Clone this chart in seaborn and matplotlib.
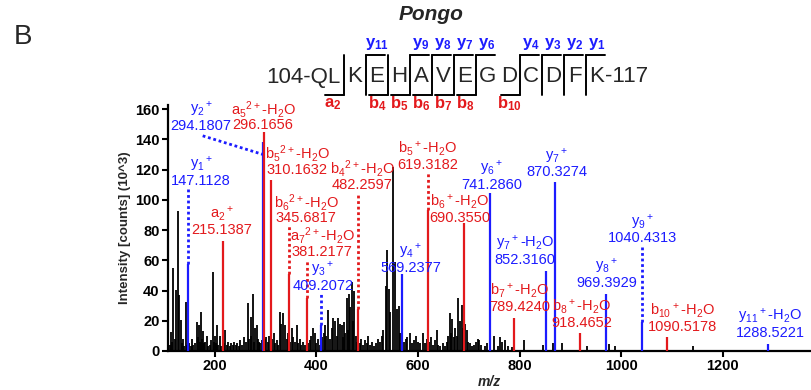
import matplotlib
matplotlib.use("Agg")
import matplotlib.pyplot as plt
import seaborn as sns

# ---- data -----------------------------------------------------------------
# assigned fragment ions
ion_labels = ["y$_1$$^+$", "a$_2$$^+$", "y$_2$$^+$", "a$_5$$^{2+}$-H$_2$O", "b$_5$$^{2+}$-H$_2$O",
              "b$_6$$^{2+}$-H$_2$O", "a$_7$$^{2+}$-H$_2$O", "y$_3$$^+$", "b$_4$$^{2+}$-H$_2$O", "y$_4$$^+$",
              "b$_5$$^+$-H$_2$O", "b$_6$$^+$-H$_2$O", "y$_6$$^+$", "b$_7$$^+$-H$_2$O", "y$_7$$^+$-H$_2$O",
              "y$_7$$^+$", "b$_8$$^+$-H$_2$O", "y$_8$$^+$", "y$_9$$^+$", "b$_{10}$$^+$-H$_2$O",
              "y$_{11}$$^+$-H$_2$O"]
ion_mz = [147.1128, 215.1387, 294.1807, 296.1656, 310.1632,
          345.6817, 381.2177, 409.2072, 482.2597, 569.2377,
          619.3182, 690.3550, 741.2860, 789.4240, 852.3160,
          870.3274, 918.4652, 969.3929, 1040.4313, 1090.5178, 1288.5221]
ion_int = [57.5, 73, 138, 145, 113,
           51, 35, 17, 28, 51,
           93, 84.5, 104.5, 22, 53,
           112, 12, 38, 19, 9.5, 4.4]
ion_series = ["y", "b", "y", "b", "b",
              "b", "b", "y", "b", "y",
              "b", "b", "y", "b", "y",
              "y", "b", "y", "y", "b", "y"]

# unassigned peaks (m/z, intensity x10^3)
other_mz = [111, 113, 116, 118, 121, 123, 126.8, 130, 133, 135.5, 137.8, 140, 142.5, 145,
            149.5, 152, 154, 157, 160, 164, 166, 168, 170, 172, 174, 176, 179, 181, 184,
            187, 190, 193, 195.6, 198, 200, 202, 204.7, 207, 209.8, 212, 217, 219.9, 223,
            226, 229, 232, 235, 238, 241, 244, 247, 250, 254, 258, 262, 265.7, 268, 270.3,
            272, 274.4, 277, 279, 282.6, 285, 287, 289, 292, 299, 301, 304, 307, 313, 316,
            319, 322, 325, 328, 330, 334.5, 338, 341, 344, 348, 351, 354, 357, 361, 364,
            367, 370, 374, 377, 384, 387, 390, 394, 397, 400, 403, 406, 411, 414, 416.7,
            419, 423, 426, 430, 433, 436.7, 440, 443.3, 446, 450, 452, 454.6, 457, 459.4,
            462, 464.6, 466.5, 469.3, 471, 473.8, 477, 480, 485, 488, 492, 496, 499, 502,
            505, 509, 513, 517, 521, 525, 528, 531, 536, 539, 543, 545.5, 551.2, 555, 558,
            562.5, 565, 572, 576, 579, 584, 588, 592, 596, 600, 604, 609, 613, 617, 622,
            625, 629, 633, 636.6, 640, 643, 648.3, 652, 656, 659, 662.8, 665, 667.5, 670,
            673, 676, 679.2, 682, 685.8, 688, 693, 696.2, 699, 703, 706, 710, 714, 718,
            720.8, 724, 731, 736, 749, 757, 761, 765, 771, 776, 785, 809, 846, 866, 884,
            932, 976.6, 987.6, 1141.7]
other_int = [4, 12.8, 6, 54.7, 8, 40.3, 92.6, 37, 20.5, 5, 8, 3, 32.6, 4,
             5.5, 3, 8, 4, 5, 19.4, 9, 17, 6, 26, 8, 13, 5, 6, 10,
             3, 4, 7, 52, 6, 10, 5, 17, 4, 10, 3, 5, 14, 4,
             6, 3, 5, 4, 6, 4, 5, 3, 7, 4, 9, 6, 31.5, 8, 22.8,
             10, 38, 6, 15, 17, 8, 6, 5, 7, 8, 9, 6, 10, 8, 12,
             5, 7, 4, 26, 18, 25, 17, 8, 12, 6, 15, 9, 6, 17, 5,
             8, 4, 6, 4, 5, 7, 10, 15, 12, 5, 8, 4, 9, 12, 17,
             10, 27, 8, 15, 22, 20, 10, 22, 18, 17, 9, 19, 12, 34.8,
             14, 38, 29, 45.8, 20, 39.4, 10, 6, 5, 8, 4, 7, 5, 10,
             4, 6, 3, 5, 8, 6, 10, 14, 43, 67, 41, 26, 122, 59, 28,
             30, 12, 6, 8, 9, 12, 5, 7, 10, 6, 5, 12, 5, 8, 6,
             9, 4, 7, 14, 4, 3, 5.5, 3, 6, 10, 25, 12, 21, 9,
             15, 10, 35, 20, 30.4, 15, 18, 14, 6, 5, 3, 4, 6, 8,
             7, 4, 3, 5, 10, 3, 9, 6, 7, 3, 2.5, 7, 4, 5, 5,
             3.5, 4.3, 3.5, 3.5]

# peptide and observed cleavages (residue index the fragment breaks after)
peptide = "QLKEHAVEGDCDFK"
pep_start, pep_end = 104, 117
y_ions = [1, 2, 3, 4, 6, 7, 8, 9, 11]
b_ions = [("a", 2), ("b", 4), ("b", 5), ("b", 6), ("b", 7), ("b", 8), ("b", 10)]

# ---- label layout (m/z, intensity of the number line) ----------------------
label_pos = [(173, 112.4), (214, 80.0), (173, 148.8), (294.7, 149.4), (361.6, 119.7),
             (379.3, 87.9), (410.8, 65.5), (412.8, 43.0), (489.6, 109.8), (586, 54.9),
             (619.5, 123.0), (682.5, 87.9), (745.5, 109.8), (800.6, 29.1), (810.4, 60.2),
             (873.4, 118.3), (922.6, 18.5), (971.9, 45.0), (1042.7, 74.7), (1119.5, 15.9),
             (1292.7, 11.9)]
dotted = [True, False, False, False, False,
          True, True, True, True, False,
          True, False, False, False, False,
          False, False, False, True, False, False]

RED = "#e3191c"
BLUE = "#1c1cff"

sns.set_theme(style="ticks")
plt.rcParams["font.family"] = ["Liberation Sans", "DejaVu Sans"]
plt.rcParams["mathtext.fontset"] = "custom"
plt.rcParams["mathtext.rm"] = "Liberation Sans"
plt.rcParams["mathtext.default"] = "regular"

W, H = 811, 390
fig = plt.figure(figsize=(W / 100, H / 100), dpi=100)
ax = fig.add_axes([168 / W, 1 - 351 / H, 1 - 168 / W, (351 - 104.5) / H])

# spectrum
ax.vlines(other_mz, 0, other_int, color="black", lw=1.3, zorder=2)
for mz, inten, ser in zip(ion_mz, ion_int, ion_series):
    ax.vlines(mz, 0, inten, color=BLUE if ser == "y" else RED, lw=1.6, zorder=3)

# labels
for i, (lab, mz, inten, ser) in enumerate(zip(ion_labels, ion_mz, ion_int, ion_series)):
    col = BLUE if ser == "y" else RED
    lx, ly = label_pos[i]
    ax.text(lx, ly, f"{mz:.4f}", color=col, fontsize=10.5, ha="center", va="center", zorder=4)
    ax.text(lx, ly + 10.6, lab, color=col, fontsize=10.5, ha="center", va="center", zorder=4)
    if dotted[i]:
        ax.vlines(mz, inten, ly - 5.5, color=col, lw=2, linestyles=(0, (1, 1)), zorder=3)
# y2 connector runs diagonally to its label
k = 2
ax.plot([label_pos[k][0] + 3, ion_mz[k]], [label_pos[k][1] - 6.5, ion_int[k] - 8],
        color=BLUE, lw=2, ls=(0, (1, 1)), zorder=3)

ax.set_xlim(107.7, 1373.4)
ax.set_ylim(0, 163)
ax.set_xticks([200, 400, 600, 800, 1000, 1200])
ax.set_yticks(range(0, 161, 20))
sns.despine(ax=ax)
for s in ["left", "bottom"]:
    ax.spines[s].set_linewidth(1.6)
    ax.spines[s].set_color("black")
ax.tick_params(direction="out", length=4, width=1.5, colors="black", labelsize=10.5, pad=2)
for t in ax.get_xticklabels() + ax.get_yticklabels():
    t.set_fontweight("bold")
ax.set_ylabel("Intensity [counts] (10^3)", fontsize=9.5, fontweight="bold", labelpad=3)
ax.set_xlabel("m/z", fontsize=10, fontweight="bold", style="italic", labelpad=1)

# ---- header: panel letter, species, sequence map ---------------------------
ov = fig.add_axes([0, 0, 1, 1])
ov.set_xlim(0, W)
ov.set_ylim(H, 0)
ov.axis("off")

ov.text(23, 37, "B", fontsize=20, ha="center", va="center")
ov.text(431, 15, "Pongo", fontsize=15, fontweight="bold", style="italic", ha="center", va="center")

step = 22
def cut_x(n):
    return 344 + (n - 2) * step

def res_x(n):
    return 344 + (n - 2.5) * step

seq_y = 77
ov.text(cut_x(2) - 4, seq_y, f"{pep_start}-{peptide[:2]}", fontsize=16, ha="right", va="center")
for n, aa in enumerate(peptide[2:], start=3):
    ov.text(res_x(n), seq_y, aa, fontsize=16, ha="center", va="center")
ov.text(res_x(len(peptide)) + 8, seq_y, f"-{pep_end}", fontsize=16, ha="left", va="center")

top, bot, bar = 55, 95, 19
cuts = sorted(set([len(peptide) - k for k in y_ions] + [n for _, n in b_ions]))
for n in cuts:
    ov.plot([cut_x(n), cut_x(n)], [top, bot], color="black", lw=1.4)
for k in y_ions:
    n = len(peptide) - k
    ov.plot([cut_x(n), cut_x(n) + bar], [top, top], color="black", lw=1.4)
    ov.text(res_x(n + 1), 44, f"y$_{{{k}}}$", color=BLUE, fontsize=12, fontweight="bold",
            ha="center", va="center")
for ser, n in b_ions:
    ov.plot([cut_x(n) - bar, cut_x(n)], [bot, bot], color="black", lw=1.4)
    ov.text(res_x(n), 104, f"{ser}$_{{{n}}}$", color=RED, fontsize=12, fontweight="bold",
            ha="center", va="center")

fig.savefig("out.png", dpi=100)
